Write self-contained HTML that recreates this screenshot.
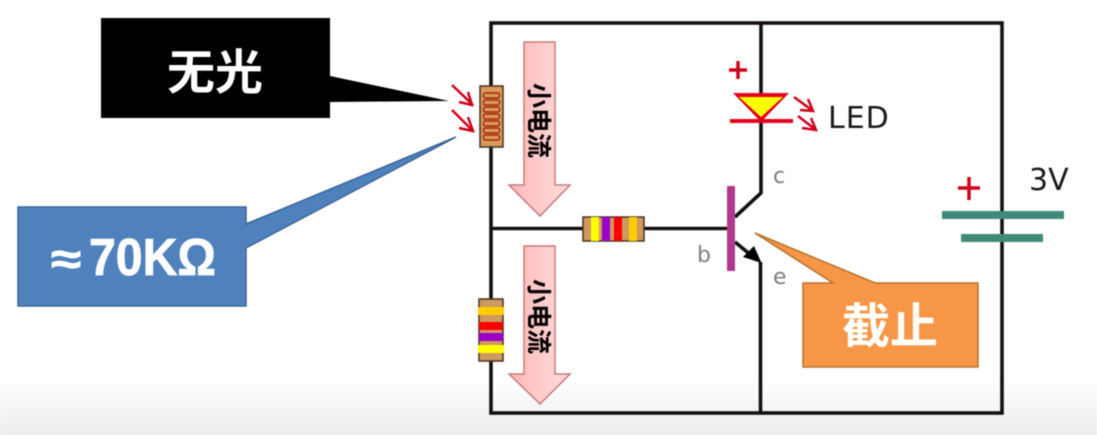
<!DOCTYPE html>
<html><head><meta charset="utf-8"><style>
html,body{margin:0;padding:0;background:#fff;overflow:hidden}
svg{display:block;filter:blur(.45px)}
text{font-family:"Liberation Sans","Noto Sans CJK SC",sans-serif}
.cjk{font-family:"Noto Sans CJK SC",sans-serif;font-weight:700}
.lab{font-family:"DejaVu Sans",sans-serif;fill:#7f7f7f;font-size:22px}
.big{font-family:"DejaVu Sans",sans-serif;fill:#1a1a1a;font-size:30px}
</style></head><body>
<svg width="1097" height="435" viewBox="0 0 1097 435" xmlns="http://www.w3.org/2000/svg">
<defs>
<linearGradient id="bg" x1="0" y1="0" x2="0" y2="1"><stop offset="0" stop-color="#fff"/><stop offset="1" stop-color="#ececec"/></linearGradient>
<linearGradient id="pk" x1="0" y1="0" x2="1" y2="0"><stop offset="0" stop-color="#ffb8b8"/><stop offset="1" stop-color="#ffdcdc"/></linearGradient>
</defs>
<rect width="1097" height="435" fill="#fff"/>
<rect y="380" width="1097" height="55" fill="url(#bg)"/>

<!-- wires -->
<g fill="none" stroke="#15100f" stroke-width="3.6">
<rect x="491" y="23" width="511" height="390"/>
<path d="M761 23V193L735 217"/>
<path d="M491 228.500H727"/>
<path d="M735 242L752 256"/>
<path d="M760.500 262V413"/>
</g>
<polygon points="754,246 761.500,263 743,257" fill="#000"/>
<rect x="727" y="186" width="8" height="85" fill="#b03a8a"/>

<!-- LDR -->
<rect x="480" y="86" width="23" height="61" fill="#d99a58" stroke="#443322" stroke-width="1.500"/>
<g fill="none" stroke="#a52a10" stroke-width="1.500">
<rect x="483.500" y="93" width="16" height="5" rx="2"/>
<rect x="483.500" y="100" width="16" height="5" rx="2"/>
<rect x="483.500" y="107" width="16" height="5" rx="2"/>
<rect x="483.500" y="114" width="16" height="5" rx="2"/>
<rect x="483.500" y="121" width="16" height="5" rx="2"/>
<rect x="483.500" y="128" width="16" height="5" rx="2"/>
<rect x="483.500" y="135" width="16" height="5" rx="2"/>
</g>
<g fill="none" stroke="#d0021b" stroke-width="2.500">
<path d="M452 85L473 105M468 92L472 105L459 102"/>
<path d="M452 110L473 131M468 117L473 131L459 128"/>
<path d="M794 97L813 111M800 110L813 111L808 99"/>
<path d="M798 116L816 130M802 128L816 130L811 118"/>
</g>

<!-- LED -->
<polygon points="733,93 789,93 761,122" fill="#e3001b"/>
<polygon points="739,97 783,97 761,117" fill="#ffff00"/>
<path d="M730 121H793" stroke="#e3001b" stroke-width="4"/>
<path d="M729 70H747M738 61V79" stroke="#d0021b" stroke-width="3.500"/>
<text class="big" x="828" y="128" letter-spacing="1">LED</text>

<!-- resistors -->
<rect x="583" y="217" width="61" height="24" fill="#cf9a5f" stroke="#443322" stroke-width="1.500"/>
<rect x="591" y="217" width="8" height="24" fill="#ffff00"/>
<rect x="602" y="217" width="8" height="24" fill="#9b00c8"/>
<rect x="614" y="217" width="8" height="24" fill="#ff0000"/>
<rect x="629" y="217" width="8" height="24" fill="#ffcc00"/>

<rect x="479" y="299" width="24" height="62" fill="#cf9a5f" stroke="#443322" stroke-width="1.500"/>
<rect x="478" y="307" width="26" height="8" fill="#ffcc00"/>
<rect x="479" y="322" width="24" height="8" fill="#ff0000"/>
<rect x="479" y="333" width="24" height="8" fill="#9b00c8"/>
<rect x="478" y="345" width="26" height="8" fill="#ffff00"/>

<!-- current arrows -->
<polygon points="524,42 555,42 555,185 570,185 540,216 509,185 524,185" fill="url(#pk)" stroke="#c77a7a" stroke-width="1.500"/>
<polygon points="524,246 555,246 555,374 570,374 540,404 509,374 524,374" fill="url(#pk)" stroke="#c77a7a" stroke-width="1.500"/>
<text class="cjk" transform="translate(530,83) rotate(90)" font-size="25" fill="#000">小电流</text>
<text class="cjk" transform="translate(530,279) rotate(90)" font-size="25" fill="#000">小电流</text>

<!-- battery -->
<rect x="942" y="211" width="122" height="8" fill="#3f8a78"/>
<rect x="961" y="234" width="82" height="8" fill="#3f8a78"/>
<path d="M958 188H980M969 177V200" stroke="#d0021b" stroke-width="3.500"/>
<text class="big" x="1029" y="190">3V</text>

<text class="lab" x="773" y="183">c</text>
<text class="lab" x="697" y="262">b</text>
<text class="lab" x="773" y="284">e</text>

<!-- callouts -->
<polygon points="101,18 330,18 330,76 449,101 330,102 330,118 101,118" fill="#000"/>
<text class="cjk" x="215" y="89" font-size="48" fill="#fff" text-anchor="middle">无光</text>

<polygon points="18,207 246,207 246,224 456,137 246,248 246,306 18,306" fill="#4f81bd" stroke="#3a6595" stroke-width="1.500"/>
<text x="51" y="274" font-size="44" font-weight="700" fill="#fff" stroke="#fff" stroke-width="1" textLength="30" lengthAdjust="spacingAndGlyphs">≈</text>
<text x="89" y="275" font-size="52" font-weight="700" fill="#fff" stroke="#fff" stroke-width=".8" textLength="127" lengthAdjust="spacingAndGlyphs">70KΩ</text>

<polygon points="803,283 833,283 755,233 875,283 978,283 978,367 803,367" fill="#f79646" stroke="#b5722f" stroke-width="1.500"/>
<text class="cjk" x="890" y="343" font-size="48" fill="#fff" text-anchor="middle">截止</text>
</svg>
</body></html>
